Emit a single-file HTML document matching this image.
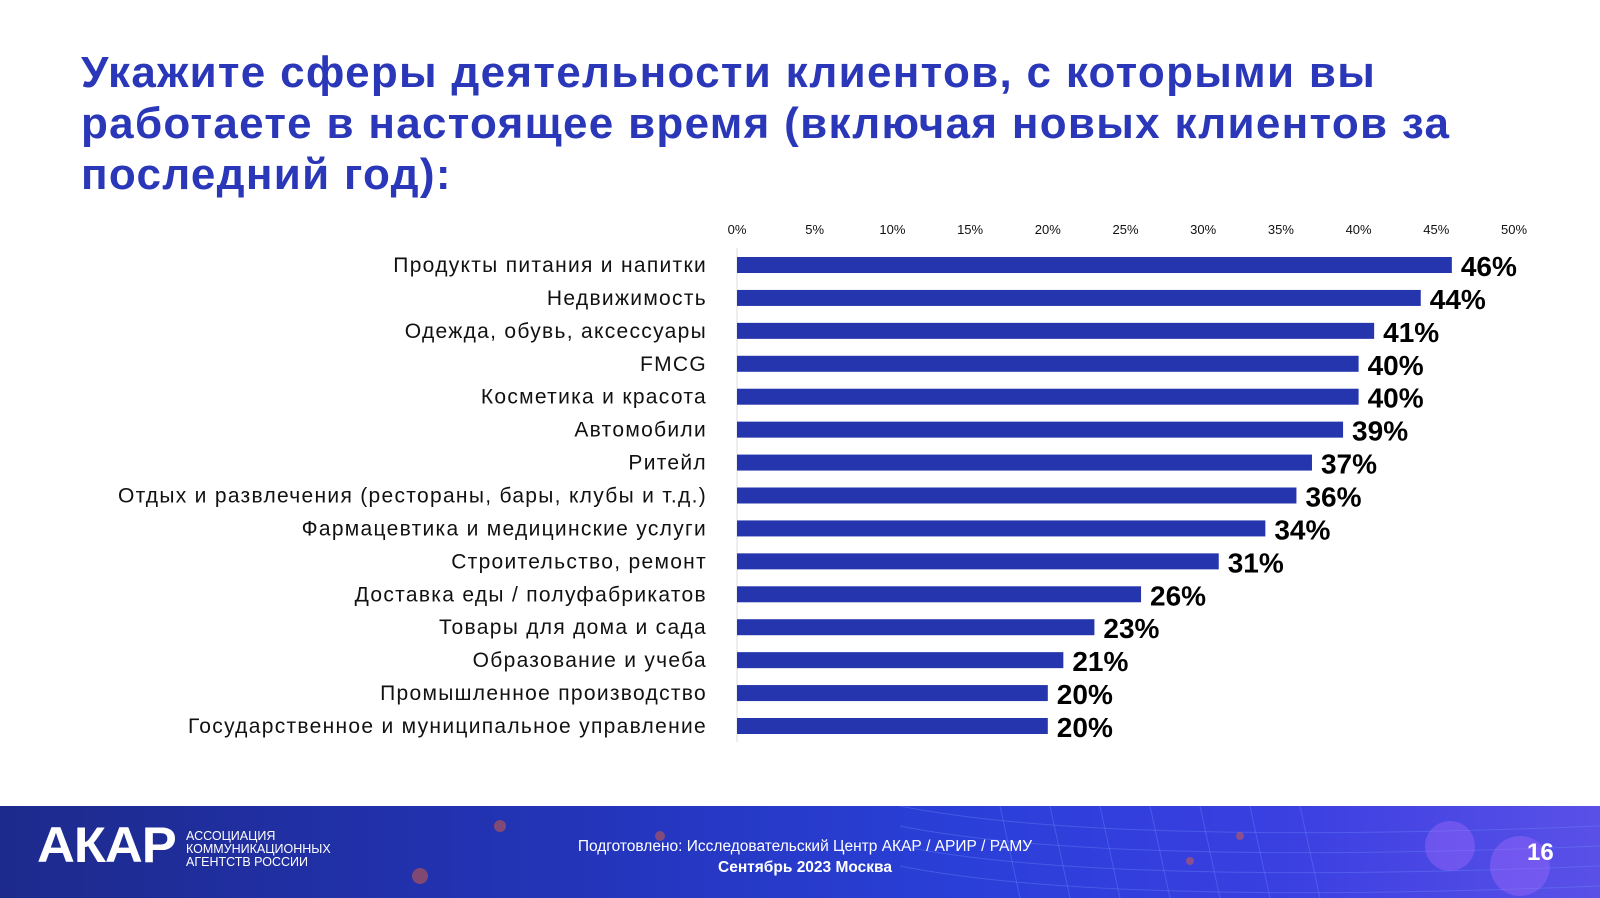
<!DOCTYPE html>
<html><head><meta charset="utf-8"><style>
body{margin:0;width:1600px;height:898px;overflow:hidden;background:#fff;font-family:"Liberation Sans",sans-serif;position:relative}
#title{position:absolute;left:81px;top:47px;width:1500px;font-size:44px;line-height:51px;font-weight:bold;color:#2a37b8;letter-spacing:1.3px;white-space:nowrap}
.footer{position:absolute;left:0;top:806px;width:1600px;height:92px;background:linear-gradient(90deg,#1d2a8c 0%,#2334b8 35%,#2a3fd8 60%,#3a3fe0 80%,#5a50e8 100%);overflow:hidden}
</style></head><body>
<div id="title">Укажите сферы деятельности клиентов, с которыми вы<br>работаете в настоящее время (включая новых клиентов за<br>последний год):</div>
<svg id="chart" width="1600" height="800" style="position:absolute;left:0;top:0"></svg>
<div class="footer">
<svg width="1600" height="92" style="position:absolute;left:0;top:0">
<g stroke="#6f8cff" stroke-opacity="0.35" fill="none" stroke-width="1">
<path d="M900 0 Q1100 40 1600 20"/><path d="M900 20 Q1100 60 1600 40"/><path d="M900 40 Q1100 80 1600 60"/><path d="M900 60 Q1100 100 1600 80"/>
<path d="M1000 0 L1020 92"/><path d="M1050 0 L1070 92"/><path d="M1100 0 L1120 92"/><path d="M1150 0 L1170 92"/><path d="M1200 0 L1220 92"/><path d="M1250 0 L1270 92"/><path d="M1300 0 L1320 92"/></g>
<g fill="#e0603a" fill-opacity="0.5"><circle cx="500" cy="20" r="6"/><circle cx="660" cy="30" r="5"/><circle cx="1190" cy="55" r="4"/><circle cx="1240" cy="30" r="4"/><circle cx="420" cy="70" r="8"/></g>
<g fill="#b070ff" fill-opacity="0.35"><circle cx="1450" cy="40" r="25"/><circle cx="1520" cy="60" r="30"/></g>
</svg>
<div style="position:absolute;left:37px;top:10px;font-size:50px;font-weight:bold;color:#fff;letter-spacing:-1px;transform:scaleX(1.05);transform-origin:left">АКАР</div>
<div style="position:absolute;left:186px;top:24px;font-size:12.5px;line-height:13px;color:#fff">АССОЦИАЦИЯ<br>КОММУНИКАЦИОННЫХ<br>АГЕНТСТВ РОССИИ</div>
<div style="position:absolute;left:475px;width:660px;top:30px;text-align:center;font-size:15.5px;line-height:21px;color:#fff">Подготовлено: Исследовательский Центр АКАР / АРИР / РАМУ<br><b>Сентябрь 2023 Москва</b></div>
<div style="position:absolute;left:1527px;top:33px;font-size:24px;font-weight:bold;color:#fff">16</div>
</div>
<script>
const categories=["Продукты питания и напитки","Недвижимость","Одежда, обувь, аксессуары","FMCG","Косметика и красота","Автомобили","Ритейл","Отдых и развлечения (рестораны, бары, клубы и т.д.)","Фармацевтика и медицинские услуги","Строительство, ремонт","Доставка еды / полуфабрикатов","Товары для дома и сада","Образование и учеба","Промышленное производство","Государственное и муниципальное управление"];
const values=[46,44,41,40,40,39,37,36,34,31,26,23,21,20,20];
const ticks=[0,5,10,15,20,25,30,35,40,45,50];
const NS="http://www.w3.org/2000/svg";
const svg=document.getElementById('chart');
const x0=737,pxPer=(1514-737)/50;
const xs=v=>x0+v*pxPer;
const y0=265,step=(726-265)/(categories.length-1);
const ys=i=>y0+i*step;
function el(t,a){const e=document.createElementNS(NS,t);for(const k in a)e.setAttribute(k,a[k]);svg.appendChild(e);return e;}
const axis=el('line',{x1:x0,x2:x0,y1:248,y2:742,stroke:'#ddd','stroke-width':1});


ticks.forEach(t=>{const e=el('text',{x:xs(t),y:234,'text-anchor':'middle','font-size':13,fill:'#111'});e.textContent=t+'%';

});
categories.forEach((c,i)=>{
const y=ys(i);
const l=el('text',{x:707,y:y+7,'text-anchor':'end','font-size':21,'letter-spacing':1.3,fill:'#111'});l.textContent=c;


const r=el('rect',{x:x0,y:y-8,width:xs(values[i])-x0,height:16,fill:'#2535ad'});


const v=el('text',{x:xs(values[i])+9,y:y+11,'font-size':28,'font-weight':'bold',fill:'#000'});v.textContent=values[i]+'%';


});
</script>
</body></html>
